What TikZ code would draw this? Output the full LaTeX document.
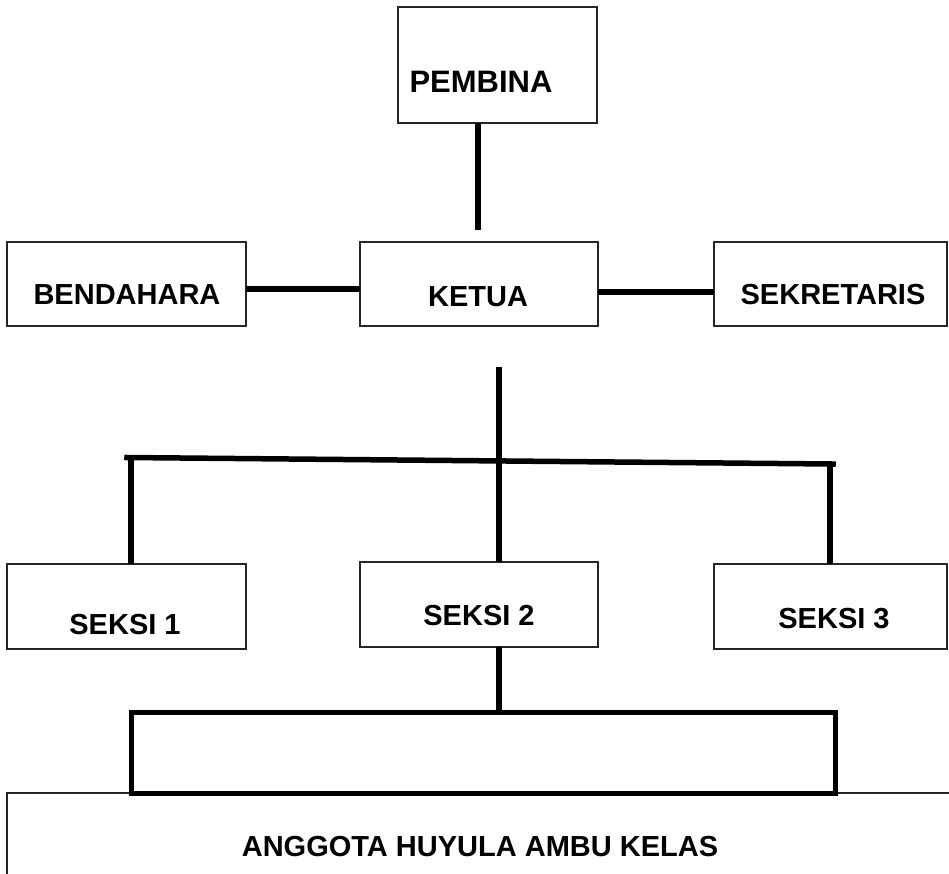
\documentclass[tikz,border=0pt]{standalone}
\usepackage{fontspec}
\setmainfont{Liberation Sans}
\begin{document}
\begin{tikzpicture}[x=1pt,y=-1pt,
  box/.style={draw=black!85,line width=1.2pt,fill=white,inner sep=0pt,outer sep=0pt},
  lbl/.style={inner sep=0pt,outer sep=0pt,font=\fontsize{29}{34}\selectfont\bfseries},
  conn/.style={line width=5.5pt,black},
  brk/.style={line width=5pt,black}]
\useasboundingbox (0,0) rectangle (949,873);
\clip (0,0) rectangle (949,873);
\fill[white] (0,0) rectangle (949,873);
% boxes
\node[box,minimum width=199pt,minimum height=116pt] (pembina) at (497.5,65) {};
\node[box,minimum width=239pt,minimum height=84pt] (bendahara) at (126.5,284) {};
\node[box,minimum width=238pt,minimum height=84pt] (ketua) at (479,284) {};
\node[box,minimum width=233pt,minimum height=84pt] (sekretaris) at (830.5,284) {};
\node[box,minimum width=239pt,minimum height=85pt] (seksi1) at (126.5,606.5) {};
\node[box,minimum width=238pt,minimum height=85pt] (seksi2) at (479,604.5) {};
\node[box,minimum width=233pt,minimum height=85pt] (seksi3) at (830.5,606.5) {};
\node[box,minimum width=960pt,minimum height=100pt,anchor=north west] (anggota) at (7,793) {};
% labels
\node[lbl,font=\fontsize{31}{36}\selectfont\bfseries] (tpembina) at (481,82) {PEMBINA};
\node[lbl] (tbendahara) at (127,295) {BENDAHARA};
\node[lbl] (tketua) at (478,297) {KETUA};
\node[lbl] (tsekretaris) at (833,295) {SEKRETARIS};
\node[lbl] (tseksi1) at (125,625) {SEKSI 1};
\node[lbl] (tseksi2) at (479,616) {SEKSI 2};
\node[lbl] (tseksi3) at (834,619) {SEKSI 3};
\node[lbl] (tanggota) at (480,847) {ANGGOTA HUYULA AMBU KELAS};
% free ends
\coordinate (pembinaEnd) at (478,230);
\coordinate (ketuaLineTop) at (499,367);
\coordinate (hL) at (127,457.5);
\coordinate (hR) at (833,464);
\coordinate (hM) at (499,461);
% connectors
\draw[conn] (pembina.south -| pembinaEnd) -- (pembinaEnd);
\draw[conn] (bendahara.east |- 0,289) -- (ketua.west |- 0,289);
\draw[conn] (ketua.east |- 0,292) -- (sekretaris.west |- 0,292);
\draw[conn] (ketuaLineTop) -- (seksi2.north -| ketuaLineTop);
\draw[conn,line cap=rect] (hL) -- (hR);
\draw[conn] (131,457.5) -- (seksi1.north -| 131,0);
\draw[conn] (830,464) -- (seksi3.north -| 830,0);
% bracket
\node[draw=black,line width=5pt,inner sep=0pt,minimum width=704pt,minimum height=81pt,anchor=north west] (bracket) at (128.5,710) {};
\draw[conn] (seksi2.south -| ketuaLineTop) -- (bracket.north -| ketuaLineTop);
\end{tikzpicture}
\end{document}
